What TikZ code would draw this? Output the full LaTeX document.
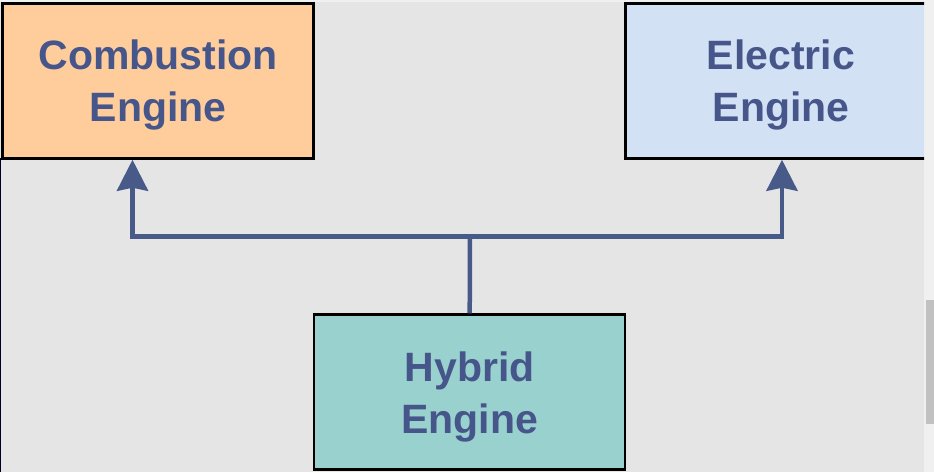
\documentclass[tikz,border=0pt]{standalone}
\usepackage{fontspec}
\setmainfont{Liberation Sans}
\usetikzlibrary{arrows.meta}
\definecolor{bggray}{HTML}{E5E5E5}
\definecolor{edgegray}{HTML}{F0F0F0}
\definecolor{scrollgray}{HTML}{C1C1C1}
\definecolor{txtblue}{HTML}{46568A}
\definecolor{lineblue}{HTML}{475A88}
\definecolor{combfill}{HTML}{FFCD9C}
\definecolor{elecfill}{HTML}{D3E1F4}
\definecolor{hybfill}{HTML}{99D1CE}
\newcommand{\toppad}{\rule{0pt}{38pt}}
\tikzset{
  enginebox/.style={draw=black, line width=2.5pt, minimum width=311pt, minimum height=155pt,
    inner sep=0pt, align=center, text=txtblue, font=\bfseries\fontsize{41}{52}\selectfont},
  conn/.style={draw=lineblue, line width=4.5pt},
  arrowconn/.style={conn, -{Stealth[length=31pt,width=31pt,inset=3pt]}}
}
\begin{document}
\begin{tikzpicture}[x=1pt,y=-1pt]
\useasboundingbox (0,0) rectangle (934,472);
\fill[edgegray] (0,0) rectangle (934,472);
\fill[bggray] (0,2) rectangle (924,472);
\fill[scrollgray] (926,300) rectangle (934,424);
\fill[black!85!blue] (0,158) rectangle (1,472);
\begin{scope}
\clip (0,0) rectangle (924,472);
\node[enginebox, fill=combfill] (comb) at (158,81) {\toppad Combustion\\Engine};
\node[enginebox, fill=elecfill] (elec) at (781,81) {\toppad Electric\\Engine};
\end{scope}
\node[enginebox, fill=hybfill] (hyb) at (469.7,392) {\rule{0pt}{40pt}Hybrid\\Engine};
\coordinate (jn) at (470,236.5);
\coordinate (lx) at (132.5,236.5);
\coordinate (rx) at (782,236.5);
\draw[conn] (hyb.north) -- (jn);
\draw[arrowconn] (jn) -- (lx) -- (lx |- comb.south);
\draw[arrowconn] (jn) -- (rx) -- (rx |- elec.south);
\end{tikzpicture}
\end{document}
